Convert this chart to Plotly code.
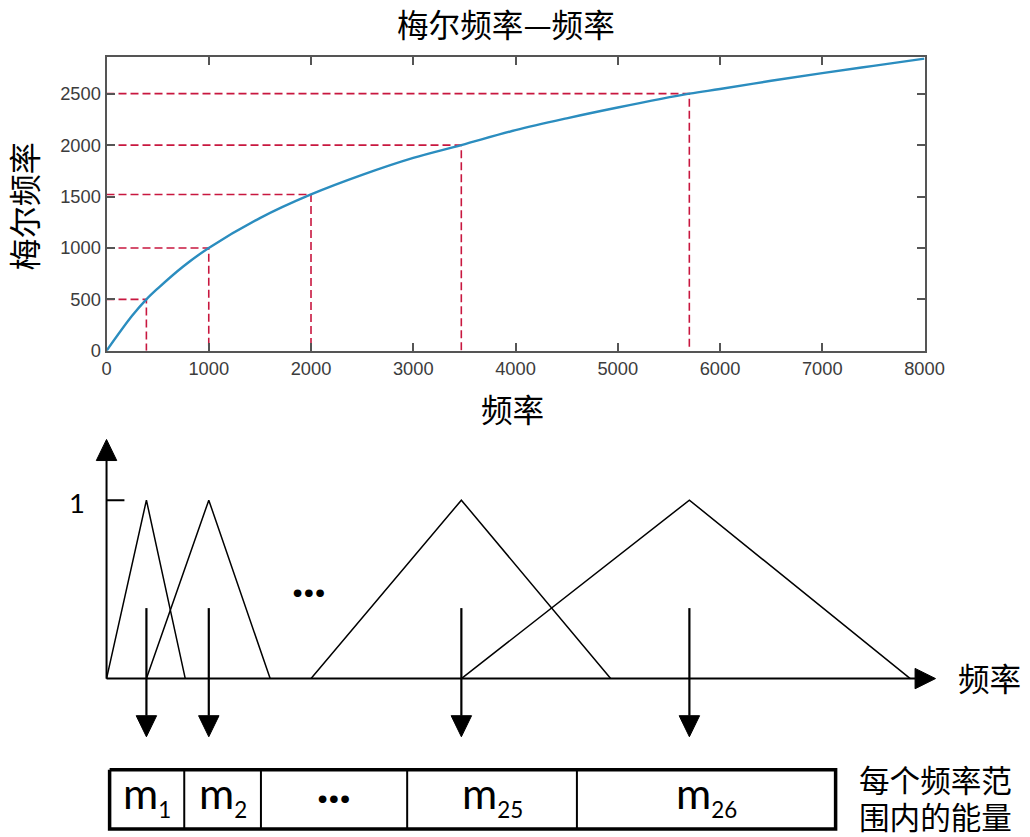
import plotly.graph_objects as go

# ---- top panel: mel scale vs frequency ----
freq_hz = [0, 250, 390, 500, 750, 1000, 1500, 2000, 2500, 3000, 3470,
           4000, 4500, 5000, 5700, 6000, 6500, 7000, 7500, 8000]
mel = [0, 340, 500, 605, 820, 1000, 1290, 1520, 1710, 1875, 2000,
       2145, 2260, 2365, 2500, 2545, 2625, 2700, 2770, 2840]

guide_hz = [390, 1000, 2000, 3470, 5700]
guide_mel = [500, 1000, 1520, 2000, 2500]

x_ticks = [0, 1000, 2000, 3000, 4000, 5000, 6000, 7000, 8000]
y_ticks = [0, 500, 1000, 1500, 2000, 2500]

# ---- bottom panel: triangular filters (x in Hz, height 0..1) ----
filt_left = [0, 390, 2000, 3470]
filt_peak = [390, 1000, 3470, 5700]
filt_right = [770, 1600, 4930, 7860]

cell_edges = [30, 760, 1510, 2940, 4600, 7130]
cell_labels = ["m1", "m2", "...", "m25", "m26"]
side_lines = ["每个频率范", "围内的能量"]

# diagram geometry (in the bottom panel's own units)
AX_X_END, AX_Y_END = 8107, 1.34
HEAD_W, HEAD_H = 100, 0.118          # half width in Hz, length in height units
HEAD_HX = 0.057                      # half height of the x-axis arrow head
ARROW_TOP, ARROW_TIP = 0.395, -0.326
BOX_TOP, BOX_BOT = -0.511, -0.843

# the page gets shot slightly shrunk, so draw a bit bigger
W, H = 1050, 849
K = W / 1030

CJK = "Noto Sans CJK SC"
LAT = "Lato"
BLUE = "#2b8dbf"
RED = "#c8173f"
AXC = "#555555"

fig = go.Figure()

# top panel
for f, m in zip(guide_hz, guide_mel):
    fig.add_trace(go.Scatter(
        x=[0, f, f], y=[m, m, 0], mode="lines", cliponaxis=False,
        line=dict(color=RED, width=1.6, dash="8px,4px"), hoverinfo="skip"))
fig.add_trace(go.Scatter(
    x=freq_hz, y=mel, mode="lines", line_shape="spline", cliponaxis=False,
    line=dict(color=BLUE, width=2.4), hoverinfo="skip"))

# bottom panel: filters
tx, ty = [], []
for l, p, r in zip(filt_left, filt_peak, filt_right):
    tx += [l, p, r, None]
    ty += [0, 1, 0, None]
fig.add_trace(go.Scatter(x=tx, y=ty, mode="lines", xaxis="x2", yaxis="y2",
                         line=dict(color="black", width=1.5), hoverinfo="skip"))

# axes of the diagram
fig.add_trace(go.Scatter(
    x=[0, 0, None, 0, AX_X_END - 2 * HEAD_W, None, 0, 175],
    y=[0, AX_Y_END - HEAD_H, None, 0, 0, None, 1, 1],
    mode="lines", xaxis="x2", yaxis="y2",
    line=dict(color="black", width=2), hoverinfo="skip"))
heads = [
    ([-HEAD_W, HEAD_W, 0, -HEAD_W],
     [AX_Y_END - HEAD_H, AX_Y_END - HEAD_H, AX_Y_END, AX_Y_END - HEAD_H]),
    ([AX_X_END - 2 * HEAD_W, AX_X_END - 2 * HEAD_W, AX_X_END, AX_X_END - 2 * HEAD_W],
     [-HEAD_HX, HEAD_HX, 0, -HEAD_HX]),
]
for p in filt_peak:
    fig.add_trace(go.Scatter(
        x=[p, p], y=[ARROW_TOP, ARROW_TIP + HEAD_H], mode="lines",
        xaxis="x2", yaxis="y2", line=dict(color="black", width=2.2),
        hoverinfo="skip"))
    heads.append(([p - HEAD_W, p + HEAD_W, p, p - HEAD_W],
                  [ARROW_TIP + HEAD_H, ARROW_TIP + HEAD_H, ARROW_TIP, ARROW_TIP + HEAD_H]))
for hx, hy in heads:
    fig.add_trace(go.Scatter(x=hx, y=hy, mode="lines", fill="toself",
                             fillcolor="black", xaxis="x2", yaxis="y2",
                             line=dict(color="black", width=1), hoverinfo="skip"))

# energy box
e0, e1 = cell_edges[0], cell_edges[-1]
fig.add_trace(go.Scatter(
    x=[e0, e1, e1, e0, e0], y=[BOX_TOP, BOX_TOP, BOX_BOT, BOX_BOT, BOX_TOP],
    mode="lines", xaxis="x2", yaxis="y2",
    line=dict(color="black", width=3.5), hoverinfo="skip"))
dx, dy = [], []
for e in cell_edges[1:-1]:
    dx += [e, e, None]
    dy += [BOX_TOP, BOX_BOT, None]
fig.add_trace(go.Scatter(x=dx, y=dy, mode="lines", xaxis="x2", yaxis="y2",
                         line=dict(color="black", width=2), hoverinfo="skip"))


def note(x, y, text, size, family=CJK, ref="x2", **kw):
    xr, yr = (ref, ref.replace("x", "y")) if ref != "paper" else ("paper", "paper")
    return dict(x=x, y=y, xref=xr, yref=yr, text=text, showarrow=False,
                xanchor="center", yanchor="middle",
                font=dict(family=family, size=round(size * K, 1), color="black"), **kw)


annotations = []
for i, lab in enumerate(cell_labels):
    cx = (cell_edges[i] + cell_edges[i + 1]) / 2
    if lab == "...":
        annotations.append(note(cx, -0.655, "<b>···</b>", 40, LAT))
    else:
        txt = 'm<sub><span style="font-size:%.1fpx">%s</span></sub>' % (22 * K, lab[1:])
        annotations.append(note(cx, -0.655, txt, 42, LAT))

for line, yy in zip(side_lines, [-0.562, -0.772]):
    annotations.append(note(8107, yy, line, 30))

annotations += [
    note(1976, 0.50, "<b>···</b>", 40, LAT),
    note(-292, 0.985, "1", 27, LAT),
    note(8633, 0.01, "频率", 31),
    # top panel titles
    note(503 / 1030, 1 - 23 / 837, "梅尔频率—频率", 31, ref="paper"),
    note(510 / 1030, 1 - 407 / 837, "频率", 31, ref="paper"),
    note(19 / 1030, 1 - 206 / 837, "梅尔频率", 31.5, ref="paper", textangle=-90),
]

axis_style = dict(showline=True, linecolor=AXC, linewidth=2, mirror="ticks",
                  ticks="inside", ticklen=8, tickwidth=2, tickcolor=AXC,
                  showgrid=False, zeroline=False,
                  tickfont=dict(family="Liberation Sans", size=round(18 * K, 1),
                                color="#3c3c3c"))

fig.update_layout(
    width=W, height=H, showlegend=False,
    margin=dict(l=0, r=0, t=0, b=0),
    paper_bgcolor="white", plot_bgcolor="white",
    xaxis=dict(domain=[102 / 1030, 924 / 1030], range=[0, 8000],
               tickvals=x_ticks, anchor="y", fixedrange=True, **axis_style),
    yaxis=dict(domain=[1 - 350 / 837, 1 - 57 / 837], range=[0, 2855],
               tickvals=y_ticks, anchor="x", fixedrange=True, **axis_style),
    xaxis2=dict(domain=[0, 1], range=[-993, 9031], visible=False, anchor="y2"),
    yaxis2=dict(domain=[0, 0.5], range=[-0.899, 1.452], visible=False, anchor="x2"),
    annotations=annotations,
)

fig.write_html("out.html", config=dict(displayModeBar=False),
               post_script="document.body.style.margin='0';")
